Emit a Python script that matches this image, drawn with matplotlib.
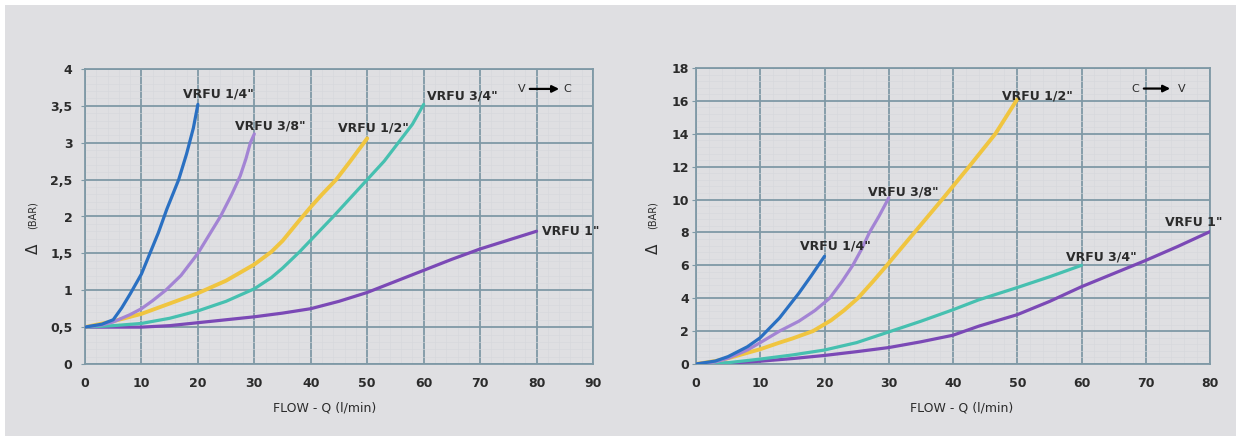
import numpy as np
import matplotlib
matplotlib.use('Agg')
import matplotlib.pyplot as plt
from matplotlib import ticker
from matplotlib.patches import Rectangle

# ---- left chart : V -> C
left_1_4_x = [0, 3, 5, 6.5, 8, 10, 11.5, 13, 14.5, 16.6, 18, 19.2, 20]
left_1_4_y = [0.5, 0.54, 0.6, 0.76, 0.95, 1.22, 1.5, 1.78, 2.1, 2.5, 2.85, 3.2, 3.52]
left_3_8_x = [0, 3, 5, 8, 10, 12, 14.3, 17, 20, 22, 24, 26, 27.5, 28.5, 29.3, 30]
left_3_8_y = [0.5, 0.53, 0.57, 0.67, 0.75, 0.86, 1.0, 1.2, 1.5, 1.75, 2.0, 2.3, 2.55, 2.78, 3.0, 3.12]
left_1_2_x = [0, 5, 10, 15, 20, 25, 30, 33, 35, 38, 40, 42, 44.5, 47, 50]
left_1_2_y = [0.5, 0.58, 0.68, 0.82, 0.96, 1.13, 1.35, 1.52, 1.67, 1.95, 2.13, 2.3, 2.5, 2.75, 3.06]
left_3_4_x = [0, 5, 10, 15, 20, 25, 30, 33, 35, 38, 40, 42, 44, 47, 50, 53, 55.5, 58, 60]
left_3_4_y = [0.5, 0.52, 0.55, 0.62, 0.72, 0.85, 1.02, 1.17, 1.3, 1.52, 1.68, 1.84, 2.0, 2.25, 2.5, 2.75, 3.0, 3.25, 3.52]
left_1_x = [0, 5, 10, 15, 20, 25, 30, 35, 40, 45, 50, 55, 60, 65, 70, 75, 80]
left_1_y = [0.5, 0.5, 0.5, 0.52, 0.56, 0.6, 0.64, 0.69, 0.75, 0.85, 0.97, 1.12, 1.27, 1.42, 1.56, 1.68, 1.8]

# ---- right chart : C -> V
right_1_4_x = [0, 3, 5, 8, 10, 13, 16, 18, 20]
right_1_4_y = [0, 0.18, 0.45, 1.05, 1.6, 2.8, 4.3, 5.4, 6.55]
right_3_8_x = [0, 3, 5, 8, 10, 13, 16, 18.5, 20.8, 22.7, 24.4, 25.8, 27, 28.5, 30]
right_3_8_y = [0, 0.13, 0.35, 0.85, 1.3, 2.0, 2.6, 3.25, 4.0, 5.0, 6.0, 7.0, 8.0, 9.0, 10.1]
right_1_2_x = [0, 3, 5, 8, 10, 13, 15, 18.2, 21, 23, 25.2, 27.5, 29.7, 34, 38.3, 42.5, 46.6, 50]
right_1_2_y = [0, 0.18, 0.35, 0.68, 0.9, 1.3, 1.55, 2.0, 2.65, 3.25, 4.0, 5.0, 6.0, 8.0, 10.0, 12.0, 14.0, 16.1]
right_3_4_x = [0, 5, 10, 15, 20, 25, 30, 35, 40, 44, 50, 55, 60]
right_3_4_y = [0, 0.08, 0.3, 0.55, 0.85, 1.3, 1.95, 2.6, 3.3, 3.9, 4.65, 5.3, 6.0]
right_1_x = [0, 5, 10, 15, 20, 25, 30, 35, 40, 44, 50, 55, 60, 65, 70, 75, 80]
right_1_y = [0, 0.05, 0.17, 0.33, 0.52, 0.75, 1.0, 1.35, 1.75, 2.3, 3.0, 3.8, 4.7, 5.5, 6.3, 7.15, 8.05]

left_yticks = [0, 0.5, 1, 1.5, 2, 2.5, 3, 3.5, 4]
left_yticklabels = ['0', '0,5', '1', '1,5', '2', '2,5', '3', '3,5', '4']
left_xticks = [0, 10, 20, 30, 40, 50, 60, 70, 80, 90]
right_yticks = [0, 2, 4, 6, 8, 10, 12, 14, 16, 18]
right_xticks = [0, 10, 20, 30, 40, 50, 60, 70, 80]

BLUE = '#2a70c2'
LAV = '#a384d4'
YEL = '#f0c540'
TEAL = '#46c0b0'
PURP = '#7b49b6'
GRID = '#7f99a6'
BG = '#dfdfe2'
TXT = '#2b2b2b'

fig = plt.figure(figsize=(12.36, 4.36), dpi=100)
fig.patch.set_facecolor('white')
fig.patches.append(Rectangle((5 / 1236, 0), 1, 1 - 5 / 436, transform=fig.transFigure,
                             facecolor=BG, edgecolor='none', zorder=-10))

axL = fig.add_axes([85 / 1236, 1 - 364 / 436, 508 / 1236, 295 / 436])
axR = fig.add_axes([696 / 1236, 1 - 364 / 436, 514 / 1236, 296 / 436])


def style(ax, xticks, yticks, ylabels, xmax, ymax, ypad):
    ax.set_facecolor(BG)
    ax.set_xlim(0, xmax)
    ax.set_ylim(0, ymax)
    ax.set_xticks(xticks)
    ax.set_yticks(yticks)
    ax.set_yticklabels(ylabels)
    ax.xaxis.set_minor_locator(ticker.AutoMinorLocator(5))
    ax.yaxis.set_minor_locator(ticker.AutoMinorLocator(5))
    ax.grid(True, which='minor', color='#d6d7db', lw=0.4, zorder=0)
    ax.grid(True, which='major', color=GRID, lw=1.3, zorder=0)
    ax.set_axisbelow(True)
    for s in ax.spines.values():
        s.set_color(GRID)
        s.set_linewidth(1.3)
    ax.tick_params(axis='x', which='major', length=0, pad=9, labelsize=9, labelcolor=TXT)
    ax.tick_params(axis='y', which='major', length=3, color=GRID, pad=ypad, labelsize=9, labelcolor=TXT)
    ax.tick_params(which='minor', length=0)
    for lab in ax.get_xticklabels() + ax.get_yticklabels():
        lab.set_fontweight('bold')


style(axL, left_xticks, left_yticks, left_yticklabels, 90, 4, 6)
style(axR, right_xticks, right_yticks, [str(v) for v in right_yticks], 80, 18, 2)

lw = 2.3
for ax, series in ((axL, [(left_1_x, left_1_y, PURP), (left_3_4_x, left_3_4_y, TEAL),
                          (left_1_2_x, left_1_2_y, YEL), (left_3_8_x, left_3_8_y, LAV),
                          (left_1_4_x, left_1_4_y, BLUE)]),
                   (axR, [(right_1_x, right_1_y, PURP), (right_3_4_x, right_3_4_y, TEAL),
                          (right_1_2_x, right_1_2_y, YEL), (right_3_8_x, right_3_8_y, LAV),
                          (right_1_4_x, right_1_4_y, BLUE)])):
    for xs, ys, c in series:
        w = lw + 0.5 if c == YEL else lw
        ax.plot(xs, ys, color=c, lw=w, zorder=3, solid_joinstyle='round', solid_capstyle='round')

lab_kw = dict(fontsize=9, fontweight='bold', color=TXT, ha='left', va='center', zorder=5)
axL.text(17.4, 3.66, 'VRFU 1/4"', **lab_kw)
axL.text(26.6, 3.23, 'VRFU 3/8"', **lab_kw)
axL.text(44.8, 3.20, 'VRFU 1/2"', **lab_kw)
axL.text(60.6, 3.63, 'VRFU 3/4"', **lab_kw)
axL.text(81.0, 1.80, 'VRFU 1"', **lab_kw)

axR.text(16.2, 7.17, 'VRFU 1/4"', **lab_kw)
axR.text(26.8, 10.45, 'VRFU 3/8"', **lab_kw)
axR.text(47.6, 16.3, 'VRFU 1/2"', **lab_kw)
axR.text(57.6, 6.5, 'VRFU 3/4"', **lab_kw)
axR.text(73.0, 8.6, 'VRFU 1"', **lab_kw)

# direction arrows
arr = dict(arrowstyle='-|>', color='black', lw=1.6, mutation_scale=10, shrinkA=0, shrinkB=0)
axL.text(77.4, 3.73, 'V', fontsize=8, color=TXT, ha='center', va='center')
axL.annotate('', xy=(84.0, 3.73), xytext=(78.8, 3.73), arrowprops=arr)
axL.text(85.5, 3.73, 'C', fontsize=8, color=TXT, ha='center', va='center')
axR.text(68.3, 16.75, 'C', fontsize=8, color=TXT, ha='center', va='center')
axR.annotate('', xy=(73.8, 16.75), xytext=(69.7, 16.75), arrowprops=arr)
axR.text(75.6, 16.75, 'V', fontsize=8, color=TXT, ha='center', va='center')

# axis titles
for xc in (325, 962):
    fig.text(xc / 1236, 1 - 408 / 436, 'FLOW - Q (l/min)', fontsize=9, color=TXT,
             ha='center', va='center')
for xc in (33, 653):
    fig.text(xc / 1236, 1 - 249 / 436, '\u0394', fontsize=11, color=TXT,
             ha='center', va='center', rotation=90)
    fig.text(xc / 1236, 1 - 215 / 436, '(BAR)', fontsize=7, color=TXT,
             ha='center', va='center', rotation=90)

plt.savefig('out.png', dpi=100, facecolor=fig.get_facecolor())
